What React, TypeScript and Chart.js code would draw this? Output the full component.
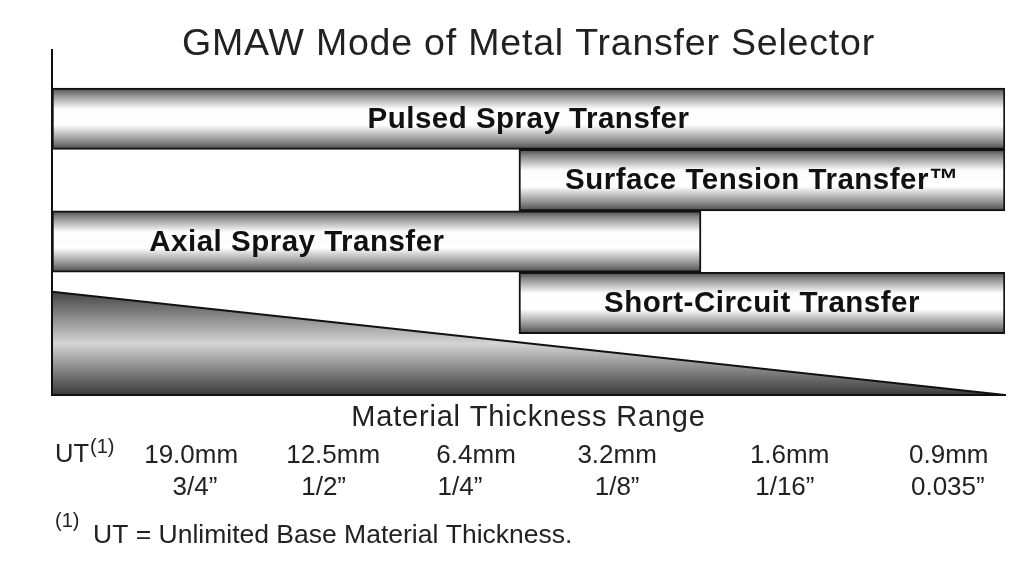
import { useEffect, useRef } from 'react';
import { Chart, registerables } from 'chart.js';

Chart.register(...registerables);

// ---------- data ----------
const chartTitle = 'GMAW Mode of Metal Transfer Selector';
const axisCaption = 'Material Thickness Range';

const transferModes = [
  'Pulsed Spray Transfer',
  'Surface Tension Transfer™',
  'Axial Spray Transfer',
  'Short-Circuit Transfer',
];
const modeRow = [1, 2, 3, 4];
const rangeStart = [0, 49.0, 0, 49.0];
const rangeEnd = [100, 100, 68.1, 100];
const labelCenter: (number | null)[] = [null, null, 25.7, null];

const wedgeX = [0, 100];
const wedgeY = [3.82, 5.5];

const mmLabels = ['19.0mm', '12.5mm', '6.4mm', '3.2mm', '1.6mm', '0.9mm'];
const mmAt = [14.6, 29.5, 44.5, 59.3, 77.4, 94.1];
const inchLabels = ['3/4\u201D', '1/2\u201D', '1/4\u201D', '1/8\u201D', '1/16\u201D', '0.035\u201D'];
const inchAt = [15.0, 28.5, 42.8, 59.3, 76.9, 94.0];

const baseLabel = 'UT';
const noteMark = '(1)';
const footnote = 'UT = Unlimited Base Material Thickness.';

const X_MIN = 0;
const X_MAX = 100;
const Y_MIN = -0.12;
const Y_MAX = 5.5;

const FONT = '"Liberation Sans", Arial, Helvetica, sans-serif';
const INK = '#222';

// ---------- styles ----------
const barFill = (c: any) => {
  const chart = c.chart;
  const ys = chart.scales?.y;
  if (!ys || c.type !== 'data' || !c.raw) return '#cccccc';
  const top = ys.getPixelForValue(c.raw.y - 0.5);
  const bot = ys.getPixelForValue(c.raw.y + 0.5);
  if (!isFinite(top) || !isFinite(bot)) return '#cccccc';
  const g = chart.ctx.createLinearGradient(0, top, 0, bot);
  g.addColorStop(0, '#4a4a4a');
  g.addColorStop(0.1, '#888888');
  g.addColorStop(0.34, '#fcfcfc');
  g.addColorStop(0.6, '#ffffff');
  g.addColorStop(0.86, '#8f8f8f');
  g.addColorStop(1, '#4a4a4a');
  return g;
};

const wedgeFill = (c: any) => {
  const chart = c.chart;
  const ys = chart.scales?.y;
  if (!ys || !chart.chartArea) return '#999999';
  const top = ys.getPixelForValue(Math.min(...wedgeY));
  const bot = ys.getPixelForValue(Y_MAX);
  if (!isFinite(top) || !isFinite(bot)) return '#999999';
  const g = chart.ctx.createLinearGradient(0, top, 0, bot);
  g.addColorStop(0, '#444444');
  g.addColorStop(0.5, '#d4d4d4');
  g.addColorStop(1, '#3a3a3a');
  return g;
};

const textPlugin = {
  id: 'gmawText',
  beforeDraw(chart: any) {
    chart.ctx.letterSpacing = '0.8px';
  },
  beforeDatasetsDraw(chart: any) {
    chart.ctx.letterSpacing = '0px';
  },
  afterDatasetsDraw(chart: any) {
    const ctx = chart.ctx;
    const meta = chart.getDatasetMeta(0);
    const xs = chart.scales.x;
    ctx.save();
    ctx.letterSpacing = '0.5px';
    ctx.font = `bold 29.5px ${FONT}`;
    ctx.fillStyle = '#111';
    ctx.textAlign = 'center';
    ctx.textBaseline = 'middle';
    meta.data.forEach((el: any, i: number) => {
      const { x, y, base } = el.getProps(['x', 'y', 'base'], true);
      const lc = labelCenter[i];
      const cx = lc != null ? xs.getPixelForValue(lc) : (x + base) / 2;
      ctx.fillText(transferModes[i], cx, y + 1);
    });
    ctx.restore();
  },
  afterDraw(chart: any) {
    const ctx = chart.ctx;
    const xs = chart.scales.x;
    const xin = chart.scales.xin;
    const left = chart.chartArea.left;
    ctx.save();
    ctx.letterSpacing = '0px';
    ctx.fillStyle = INK;
    ctx.textAlign = 'left';
    // UT label on the mm row
    const mid = xs.top + 15.6;
    ctx.font = `25.5px ${FONT}`;
    ctx.textBaseline = 'middle';
    ctx.fillText(baseLabel, left + 3, mid);
    const utW = ctx.measureText(baseLabel).width;
    ctx.font = `20px ${FONT}`;
    ctx.textBaseline = 'alphabetic';
    ctx.fillText(noteMark, left + 3 + utW + 1, mid - 2.6);
    // footnote
    const fb = xin.bottom + 38.8;
    ctx.font = `20px ${FONT}`;
    ctx.fillText(noteMark, left + 3, fb - 16);
    ctx.font = `26.5px ${FONT}`;
    ctx.fillText(footnote, left + 41, fb);
    ctx.restore();
  },
};

export default function App() {
  const ref = useRef<HTMLCanvasElement | null>(null);

  useEffect(() => {
    if (!ref.current) return;
    const chart = new Chart(ref.current, {
      type: 'bar',
      data: {
        datasets: [
          {
            type: 'bar',
            label: 'Transfer mode',
            data: modeRow.map((r, i) => ({ x: [rangeStart[i], rangeEnd[i]], y: r })) as any,
            xAxisID: 'x',
            yAxisID: 'y',
            backgroundColor: barFill as any,
            borderColor: '#111',
            borderWidth: 2,
            borderSkipped: false,
            categoryPercentage: 1,
            barPercentage: 1,
            order: 1,
          } as any,
          {
            type: 'line',
            label: 'Material thickness',
            data: wedgeX.map((x, i) => ({ x, y: wedgeY[i] })) as any,
            indexAxis: 'x',
            xAxisID: 'x',
            yAxisID: 'y',
            borderColor: '#111',
            borderWidth: 2,
            pointRadius: 0,
            tension: 0,
            fill: { value: Y_MAX },
            backgroundColor: wedgeFill as any,
            order: 2,
          } as any,
        ],
      },
      options: {
        indexAxis: 'y',
        responsive: false,
        animation: false,
        events: [],
        layout: { padding: { left: 52, right: 19, top: 0, bottom: 72.8 } },
        plugins: {
          legend: { display: false },
          tooltip: { enabled: false },
          title: {
            display: true,
            text: chartTitle,
            color: INK,
            font: { family: FONT, size: 37.5, weight: 'normal', lineHeight: 1.2 },
            padding: { top: 22, bottom: -17 },
          },
        },
        scales: {
          y: {
            type: 'linear',
            position: 'left',
            reverse: true,
            min: Y_MIN,
            max: Y_MAX,
            offset: false,
            afterBuildTicks: (s: any) => {
              s.ticks = [0, ...modeRow, modeRow.length + 1].map((v) => ({ value: v }));
            },
            ticks: { display: false },
            grid: { display: false, drawTicks: false, tickLength: 0 },
            border: { display: true, color: '#111', width: 2, z: 1 },
          },
          x: {
            type: 'linear',
            position: 'bottom',
            min: X_MIN,
            max: X_MAX,
            weight: 1,
            afterBuildTicks: (s: any) => {
              s.ticks = mmAt.map((v) => ({ value: v }));
            },
            ticks: {
              display: true,
              autoSkip: false,
              maxRotation: 0,
              minRotation: 0,
              padding: 0,
              color: INK,
              z: 1,
              font: { family: FONT, size: 26, lineHeight: 1.2 },
              callback: (_v: any, i: number) => mmLabels[i],
            },
            grid: { display: false, drawTicks: false, tickLength: 0 },
            border: { display: false },
          },
          xt: {
            type: 'linear',
            axis: 'x',
            position: 'bottom',
            min: X_MIN,
            max: X_MAX,
            weight: 0,
            ticks: { display: false },
            grid: { display: false, drawTicks: false, tickLength: 0 },
            border: { display: true, color: '#111', width: 2, z: 1 },
            title: {
              display: true,
              text: axisCaption,
              color: INK,
              font: { family: FONT, size: 29, lineHeight: 1.2 },
              padding: { top: 5.6, bottom: 4.4 },
            },
          },
          xin: {
            type: 'linear',
            axis: 'x',
            position: 'bottom',
            min: X_MIN,
            max: X_MAX,
            weight: 2,
            afterBuildTicks: (s: any) => {
              s.ticks = inchAt.map((v) => ({ value: v }));
            },
            ticks: {
              display: true,
              autoSkip: false,
              maxRotation: 0,
              minRotation: 0,
              padding: 1,
              color: INK,
              z: 1,
              font: { family: FONT, size: 26, lineHeight: 1.2 },
              callback: (_v: any, i: number) => inchLabels[i],
            },
            grid: { display: false, drawTicks: false, tickLength: 0 },
            border: { display: false },
          },
        } as any,
      } as any,
      plugins: [textPlugin],
    });
    return () => chart.destroy();
  }, []);

  return (
    <div style={{ position: 'absolute', left: 0, top: 0, width: 1024, height: 577, background: '#fff' }}>
      <canvas ref={ref} width={1024} height={577} style={{ display: 'block', width: 1024, height: 577 }} />
    </div>
  );
}
